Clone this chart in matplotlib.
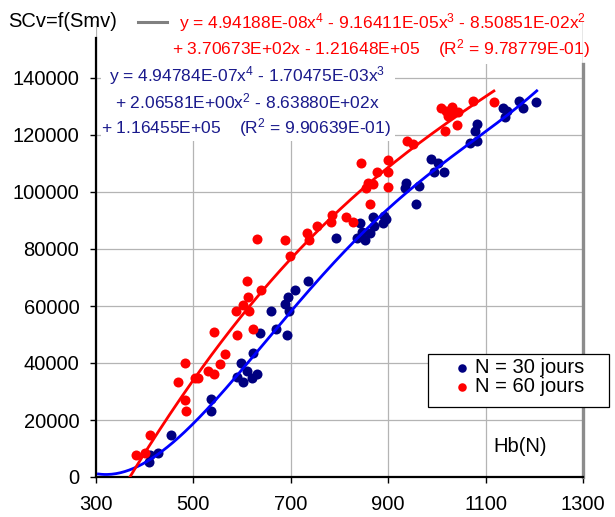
import matplotlib
matplotlib.use("Agg")
import matplotlib.pyplot as plt
from matplotlib.patches import Rectangle
from matplotlib.lines import Line2D
import numpy as np

plt.rcParams['font.family'] = ['Liberation Sans', 'DejaVu Sans']
plt.rcParams['mathtext.fontset'] = 'custom'
plt.rcParams['mathtext.rm'] = 'Liberation Sans'
plt.rcParams['mathtext.it'] = 'Liberation Sans:italic'
plt.rcParams['mathtext.bf'] = 'Liberation Sans:bold'

# ---- data: Hb(N) vs SCv, N = 30 days ----
hb30 = [409, 411, 427, 454, 536, 536, 590, 602, 598, 610, 620, 631, 622, 637,
        659, 670, 692, 688, 696, 694, 709, 735, 793, 836, 842, 846, 852, 863,
        871, 869, 891, 895, 889, 937, 934, 963, 957, 988, 1002, 994, 1015,
        1068, 1082, 1078, 1082, 1136, 1144, 1140, 1169, 1177, 1203]
sc30 = [5280, 7740, 8440, 14780, 27440, 23220, 35180, 33420, 40100, 37290,
        34830, 36240, 43620, 50660, 58400, 52070, 49960, 60860, 58400, 63320,
        65440, 68600, 83730, 83730, 89000, 85840, 83030, 85490, 87950, 91120,
        91470, 90410, 89000, 103080, 101320, 102020, 95690, 111520, 110110,
        106950, 106950, 117150, 117850, 121370, 123830, 129460, 128410, 126300,
        131930, 129460, 131570]

# ---- data: Hb(N) vs SCv, N = 60 days ----
hb60 = [382, 401, 411, 468, 483, 483, 485, 503, 509, 530, 542, 555, 542, 565,
        590, 587, 602, 614, 622, 610, 639, 612, 631, 688, 698, 733, 737, 754,
        785, 783, 813, 828, 844, 863, 854, 859, 869, 877, 900, 900, 900, 939,
        951, 1008, 1019, 1031, 1043, 1023, 1041, 1017, 1074, 1117, 1030]
sc60 = [7740, 8440, 14780, 33420, 40100, 27090, 23220, 34830, 34830, 37290,
        36240, 39750, 51010, 43270, 49960, 58400, 60510, 58400, 52070, 68600,
        65440, 63320, 83380, 83030, 77400, 85490, 83030, 87950, 91820, 89360,
        91120, 89360, 110110, 95690, 101320, 103080, 102730, 106950, 111170,
        106950, 101670, 117850, 116800, 129460, 128410, 129810, 128060, 126650,
        123480, 121370, 131930, 131570, 128060]

# polynomial trend lines (highest power first) and their R^2
coef30 = [4.94784E-07, -1.70475E-03, 2.06581E+00, -8.63880E+02, 1.16455E+05]
coef60 = [4.94188E-08, -9.16411E-05, -8.50851E-02, 3.70673E+02, -1.21648E+05]
r2_30 = 9.90639E-01
r2_60 = 9.78779E-01
span30 = (305, 1205)
span60 = (360, 1117)

labels = ["N = 30 jours", "N = 60 jours"]
x_ticks = [300, 500, 700, 900, 1100, 1300]
y_ticks = [0, 20000, 40000, 60000, 80000, 100000, 120000, 140000]

W, H = 615, 517
fig = plt.figure(figsize=(W / 100, H / 100), dpi=100)
fig.patch.set_facecolor('white')


def fx(px):
    return px / W


def fy(py):
    return 1 - py / H


ax = fig.add_axes([fx(96), 40 / H, 487 / W, 456 / H])
ax.set_xlim(300, 1300)
ax.set_ylim(0, 160000)
ax.set_xticks(x_ticks)
ax.set_yticks(y_ticks)
ax.set_xticklabels([str(v) for v in x_ticks])
ax.set_yticklabels([str(v) for v in y_ticks])
ax.grid(True, color='#b4b4b4', lw=0.9, zorder=0)
ax.set_axisbelow(True)

for s in ('top',):
    ax.spines[s].set_visible(False)
ax.spines['left'].set_linewidth(1.6)
ax.spines['left'].set_bounds(0, 154000)
ax.spines['bottom'].set_linewidth(1.6)
ax.spines['right'].set_color('#8c8c8c')
ax.spines['right'].set_linewidth(2.4)
ax.spines['right'].set_bounds(0, 145000)
ax.axvline(1300, ymin=145000 / 160000, ymax=1, color='#8c8c8c', lw=0.9)

ax.tick_params(axis='x', direction='out', length=4.5, width=1, pad=8.5,
               labelsize=14.5)
ax.tick_params(axis='y', direction='out', length=4, width=1, pad=8,
               labelsize=14.5)

s30 = ax.scatter(hb30, sc30, s=52, color='#000080', lw=0, zorder=3)
s60 = ax.scatter(hb60, sc60, s=52, color='#ff0000', lw=0, zorder=3)

x30 = np.linspace(*span30, 300)
x60 = np.linspace(*span60, 300)
ax.plot(x30, np.polyval(coef30, x30), color='#0000ff', lw=2.0, zorder=4)
ax.plot(x60, np.polyval(coef60, x60), color='#ff0000', lw=2.0, zorder=4)

# white label boxes for the fit equations
fig.add_artist(Rectangle((fx(101), fy(64)), (580 - 101) / W, 64 / H,
                         transform=fig.transFigure, facecolor='white',
                         edgecolor='none', zorder=1))
fig.add_artist(Rectangle((fx(101), fy(141)), (395 - 101) / W, (141 - 62) / H,
                         transform=fig.transFigure, facecolor='white',
                         edgecolor='none', zorder=1))


def num(c):
    return f"{abs(c):.5E}"


def sg(c):
    return '-' if c < 0 else '+'


a, b, c, d, e = coef60
red1 = (f"y = {num(a)}x$^{{4}}$ {sg(b)} {num(b)}x$^{{3}}$ "
        f"{sg(c)} {num(c)}x$^{{2}}$")
red2 = f"{sg(d)} {num(d)}x {sg(e)} {num(e)}    (R$^{{2}}$ = {r2_60:.5E})"
a, b, c, d, e = coef30
blue1 = f"y = {num(a)}x$^{{4}}$ {sg(b)} {num(b)}x$^{{3}}$"
blue2 = f"{sg(c)} {num(c)}x$^{{2}}$ {sg(d)} {num(d)}x"
blue3 = f"{sg(e)} {num(e)}    (R$^{{2}}$ = {r2_30:.5E})"

eq_fs = 12.5
fig.text(fx(179), fy(28), red1, color='#ff0000', fontsize=eq_fs, va='baseline', zorder=3)
fig.text(fx(172), fy(54), red2, color='#ff0000', fontsize=eq_fs, va='baseline', zorder=3)
fig.text(fx(109), fy(81), blue1, color='#1a1a8c', fontsize=eq_fs, va='baseline', zorder=3)
fig.text(fx(115), fy(108), blue2, color='#1a1a8c', fontsize=eq_fs, va='baseline', zorder=3)
fig.text(fx(101), fy(133), blue3, color='#1a1a8c', fontsize=eq_fs, va='baseline', zorder=3)

fig.text(fx(8), fy(27), "SCv=f(Smv)", fontsize=14.5, va='baseline', zorder=3)
fig.add_artist(Line2D([fx(138), fx(167)], [fy(22), fy(22)], color='#808080',
                      lw=2.2, transform=fig.transFigure, zorder=3))
fig.text(fx(493), fy(452), "Hb(N)", fontsize=14.5, va='baseline', zorder=3)

# legend box
fig.add_artist(Rectangle((fx(428), fy(407)), (609 - 428) / W, (407 - 354) / H,
                         transform=fig.transFigure, facecolor='white',
                         edgecolor='black', lw=0.9, zorder=4))
leg = fig.legend([s30, s60], labels, loc='upper left',
                 bbox_to_anchor=(fx(452), fy(358)), frameon=False,
                 borderpad=0, borderaxespad=0, handlelength=1.0,
                 handletextpad=0.15, labelspacing=0.0, fontsize=14.5,
                 scatterpoints=1, markerscale=0.85)
leg.set_zorder(5)

fig.savefig("out.png", dpi=100)
